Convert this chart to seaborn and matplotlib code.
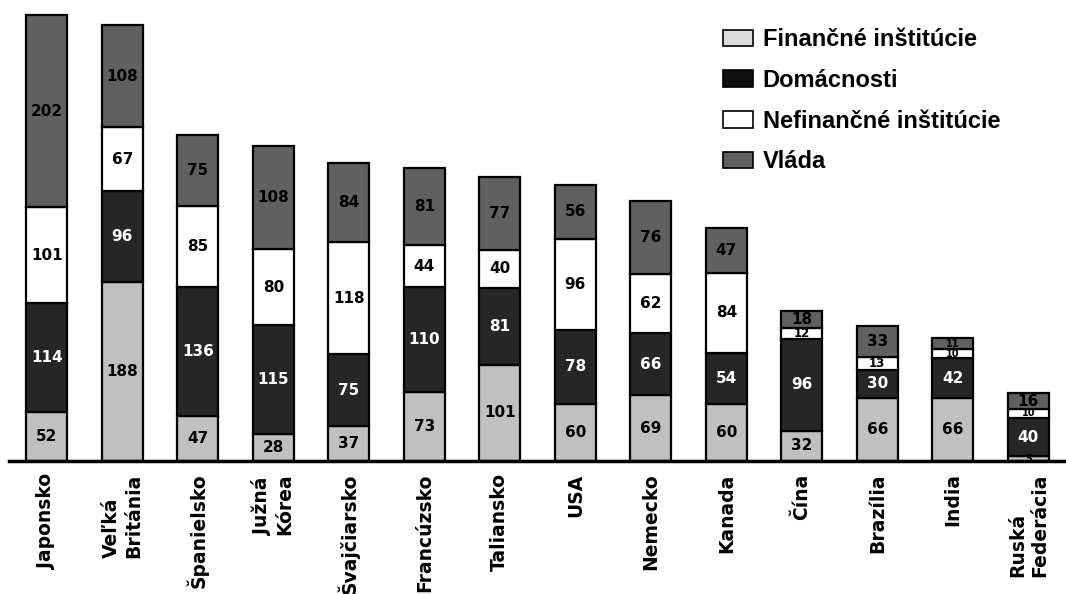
import numpy as np
import pandas as pd
import matplotlib
matplotlib.use("Agg")
import matplotlib.pyplot as plt
from matplotlib.patches import Patch
import seaborn as sns

countries = [
    "Japonsko", "Veľká\nBritánia", "Španielsko", "Južná\nKórea", "Švajčiarsko",
    "Francúzsko", "Taliansko", "USA", "Nemecko", "Kanada", "Čína", "Brazília",
    "India", "Ruská\nFederácia",
]
financne = [52, 188, 47, 28, 37, 73, 101, 60, 69, 60, 32, 66, 66, 5]
domacnosti = [114, 96, 136, 115, 75, 110, 81, 78, 66, 54, 96, 30, 42, 40]
nefinancne = [101, 67, 85, 80, 118, 44, 40, 96, 62, 84, 12, 13, 10, 10]
vlada = [202, 108, 75, 108, 84, 81, 77, 56, 76, 47, 18, 33, 11, 16]

series_names = ["Finančné inštitúcie", "Domácnosti", "Nefinančné inštitúcie", "Vláda"]
series_values = [financne, domacnosti, nefinancne, vlada]
fill_colors = ["#c0c0c0", "#262626", "#ffffff", "#606060"]
text_colors = ["black", "white", "black", "black"]
legend_colors = ["#dcdcdc", "#111111", "#ffffff", "#606060"]

sns.set_style("white")
plt.rcParams["font.family"] = ["DejaVu Sans"]
plt.rcParams["text.color"] = "black"
plt.rcParams["xtick.color"] = "black"

fig = plt.figure(figsize=(10.66, 5.94), dpi=100)
ax = fig.add_axes([0.0085, 0.224, 0.9915, 0.776])

bottom = np.zeros(len(countries))
for name, vals, fc, tc in zip(series_names, series_values, fill_colors, text_colors):
    df = pd.DataFrame({"krajina": countries, "hodnota": vals})
    sns.barplot(data=df, x="krajina", y="hodnota", bottom=bottom, color=fc,
                edgecolor="black", linewidth=1.6, width=0.54, saturation=1,
                ax=ax)
    texts = ax.bar_label(ax.containers[-1], labels=[str(v) for v in vals],
                         label_type="center", color=tc, fontsize=11,
                         fontweight="bold")
    # small segments: shrink the label so neighbours don't collide
    for t, v in zip(texts, vals):
        if v <= 11:
            t.set_fontsize(7)
        elif v < 15:
            t.set_fontsize(8.5)
    bottom = bottom + np.array(vals)

ax.set_xlim(-0.5, len(countries) - 0.5)
ax.set_ylim(0, 485)
ax.set_xlabel("")
ax.set_ylabel("")
ax.set_yticks([])
ax.tick_params(axis="x", length=0, pad=9, colors="black")
ax.set_xticks(range(len(countries)))
ax.set_xticklabels(countries, rotation=90, fontsize=13.5, fontweight="bold",
                   va="top", ha="center", multialignment="left", color="black")
for s in ["left", "right", "top"]:
    ax.spines[s].set_visible(False)
ax.spines["bottom"].set_linewidth(2.5)
ax.spines["bottom"].set_color("black")

handles = [Patch(facecolor=c, edgecolor="black", linewidth=1.2) for c in legend_colors]
leg = ax.legend(handles, series_names, loc="upper left",
                bbox_to_anchor=(0.655, 0.985), frameon=False,
                prop={"family": "Liberation Sans", "weight": "bold", "size": 17},
                handlelength=1.3, handleheight=0.7, labelspacing=0.75,
                handletextpad=0.4)
for t in leg.get_texts():
    t.set_color("black")

fig.savefig("out.png", dpi=100)
